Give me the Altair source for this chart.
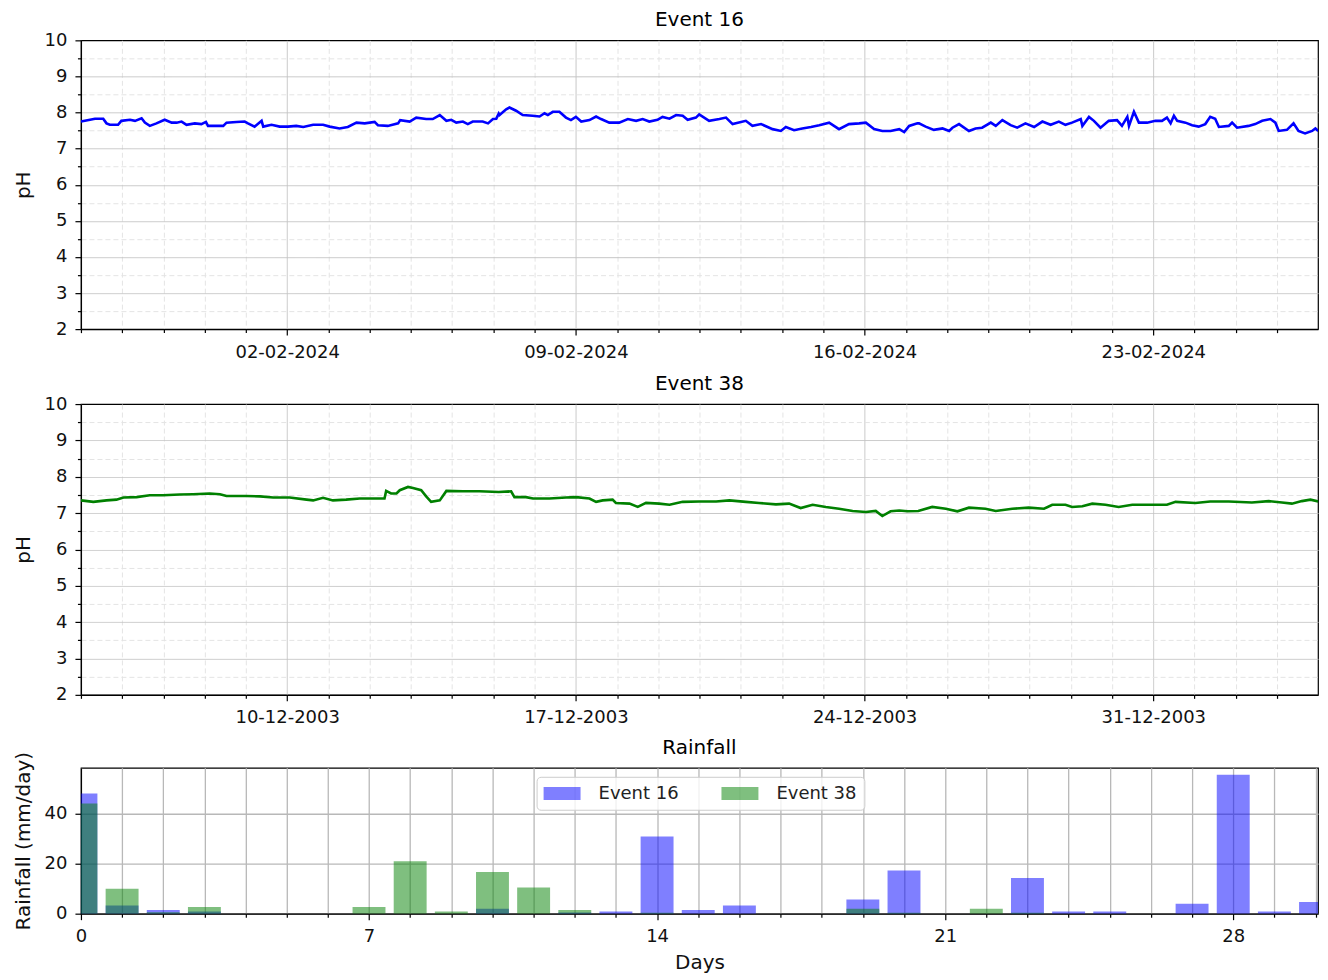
import altair as alt
import numpy as np
import pandas as pd

FONT = "DejaVu Sans"

# ---------------- data ----------------
# Event 16: days since 28-01-2024 00:00 and pH
e16_day = [0, 0.22, 0.34, 0.54, 0.62, 0.70, 0.90, 0.98, 1.19, 1.31, 1.47, 1.55, 1.67, 1.83, 2.03, 2.20,
           2.32, 2.44, 2.56, 2.76, 2.92, 3.03, 3.08, 3.25, 3.45, 3.53, 3.77, 3.97, 4.05, 4.21, 4.38, 4.42,
           4.62, 4.82, 5.02, 5.22, 5.39, 5.63, 5.87, 6.03, 6.27, 6.47, 6.68, 6.88, 7.12, 7.20, 7.44, 7.69,
           7.74, 7.97, 8.13, 8.37, 8.53, 8.70, 8.86, 8.98, 9.10, 9.26, 9.38, 9.50, 9.74, 9.87, 9.99, 10.07,
           10.13, 10.15, 10.31, 10.39, 10.55, 10.71, 10.95, 11.12, 11.24, 11.32, 11.44, 11.60, 11.76, 11.88,
           12.00, 12.13, 12.33, 12.49, 12.61, 12.81, 13.05, 13.26, 13.46, 13.62, 13.78, 13.98, 14.10, 14.27,
           14.43, 14.59, 14.71, 14.91, 14.99, 15.23, 15.48, 15.64, 15.80, 16.12, 16.28, 16.49, 16.77, 16.97,
           17.09, 17.29, 17.49, 17.70, 17.90, 18.14, 18.38, 18.62, 18.87, 19.03, 19.23, 19.43, 19.63, 19.84,
           19.96, 20.08, 20.28, 20.32, 20.48, 20.68, 20.89, 21.05, 21.13, 21.29, 21.53, 21.69, 21.85, 22.06,
           22.18, 22.34, 22.54, 22.70, 22.90, 23.11, 23.31, 23.51, 23.71, 23.87, 24.03, 24.24, 24.28, 24.44,
           24.56, 24.72, 24.92, 25.12, 25.24, 25.37, 25.41, 25.53, 25.65, 25.85, 26.05, 26.21, 26.33, 26.42,
           26.50, 26.58, 26.78, 26.94, 27.10, 27.26, 27.38, 27.50, 27.59, 27.83, 27.91, 28.03, 28.31, 28.47,
           28.64, 28.84, 28.96, 29.04, 29.24, 29.40, 29.52, 29.68, 29.85, 29.93, 30.00]
e16_ph = [7.75, 7.80, 7.83, 7.83, 7.70, 7.66, 7.66, 7.77, 7.80, 7.77, 7.84, 7.72, 7.63, 7.70, 7.80, 7.72,
          7.72, 7.75, 7.66, 7.70, 7.68, 7.74, 7.63, 7.63, 7.63, 7.72, 7.74, 7.75, 7.70, 7.61, 7.77, 7.61,
          7.66, 7.61, 7.61, 7.63, 7.60, 7.66, 7.66, 7.61, 7.56, 7.60, 7.72, 7.70, 7.74, 7.65, 7.63, 7.70,
          7.79, 7.75, 7.86, 7.82, 7.82, 7.93, 7.77, 7.80, 7.72, 7.75, 7.68, 7.75, 7.75, 7.70, 7.82, 7.83,
          7.97, 7.93, 8.09, 8.14, 8.05, 7.93, 7.91, 7.89, 7.98, 7.93, 8.02, 8.02, 7.86, 7.79,
          7.88, 7.75, 7.79, 7.89, 7.82, 7.72, 7.72, 7.82, 7.77, 7.82, 7.75, 7.80, 7.88, 7.83,
          7.93, 7.91, 7.80, 7.86, 7.95, 7.77, 7.82, 7.86, 7.68, 7.77, 7.63, 7.68, 7.54, 7.49,
          7.60, 7.51, 7.56, 7.60, 7.65, 7.72, 7.54, 7.68, 7.70, 7.72, 7.54, 7.49, 7.49, 7.54,
          7.46, 7.63, 7.70, 7.70, 7.61, 7.52, 7.56, 7.49, 7.58, 7.68, 7.49, 7.56, 7.58, 7.72,
          7.63, 7.79, 7.65, 7.58, 7.70, 7.60, 7.75, 7.66, 7.75, 7.66, 7.72, 7.82, 7.63, 7.88,
          7.77, 7.58, 7.77, 7.79, 7.63, 7.88, 7.63, 8.02, 7.72, 7.72, 7.77, 7.77, 7.86, 7.70,
          7.91, 7.77, 7.72, 7.65, 7.61, 7.68, 7.88, 7.83, 7.60, 7.63, 7.72, 7.58, 7.63, 7.68,
          7.77, 7.82, 7.72, 7.49, 7.52, 7.70, 7.49, 7.42, 7.49, 7.56, 7.49]

# Event 38: days since 05-12-2003 00:00 and pH
e38_day = [0, 0.30, 0.62, 0.86, 1.03, 1.35, 1.67, 1.99, 2.40, 2.72, 3.12, 3.37, 3.53, 4.01, 4.34, 4.66,
           5.06, 5.47, 5.63, 5.87, 6.11, 6.43, 6.76, 7.08, 7.36, 7.40, 7.52, 7.65, 7.73, 7.93, 8.05, 8.25,
           8.37, 8.49, 8.70, 8.86, 9.26, 9.66, 10.13, 10.43, 10.51, 10.79, 10.96, 11.36, 11.76, 12.00,
           12.33, 12.49, 12.65, 12.89, 12.97, 13.30, 13.50, 13.70, 14.02, 14.27, 14.59, 14.99, 15.40, 15.72,
           16.12, 16.44, 16.85, 17.17, 17.45, 17.74, 18.06, 18.38, 18.71, 19.03, 19.27, 19.43, 19.63, 19.84,
           20.04, 20.30, 20.64, 20.97, 21.25, 21.53, 21.93, 22.18, 22.58, 22.98, 23.35, 23.55, 23.87, 24.03,
           24.28, 24.52, 24.84, 25.16, 25.49, 25.97, 26.33, 26.54, 27.02, 27.38, 27.83, 28.39, 28.80, 29.12,
           29.36, 29.60, 29.81, 30.00]
e38_ph = [7.35, 7.31, 7.35, 7.37, 7.43, 7.44, 7.49, 7.49, 7.51, 7.52, 7.54, 7.52, 7.47, 7.47, 7.46, 7.43,
          7.43, 7.37, 7.35, 7.42, 7.35, 7.37, 7.40, 7.40, 7.40, 7.61, 7.54, 7.54, 7.63, 7.72, 7.69, 7.63,
          7.46, 7.31, 7.35, 7.61, 7.60, 7.60, 7.58, 7.60, 7.44, 7.44, 7.40, 7.40, 7.43, 7.44,
          7.40, 7.31, 7.35, 7.37, 7.28, 7.26, 7.17, 7.28, 7.26, 7.23, 7.31, 7.32, 7.32, 7.35,
          7.31, 7.28, 7.24, 7.26, 7.14, 7.23, 7.17, 7.12, 7.06, 7.03, 7.06, 6.92, 7.05, 7.07,
          7.05, 7.06, 7.17, 7.12, 7.05, 7.15, 7.12, 7.06, 7.12, 7.15, 7.12, 7.23, 7.23, 7.17,
          7.19, 7.26, 7.23, 7.17, 7.23, 7.23, 7.23, 7.31, 7.28, 7.32, 7.32, 7.29, 7.33, 7.29,
          7.26, 7.33, 7.37, 7.32]

# Rainfall (mm/day) per day
rain_days = list(range(31))
rain_e16 = [48, 3.3, 1.5, 0.9, 0, 0, 0, 0, 0, 0, 2, 0, 0.5, 0.9, 30.8, 1.5, 3.3, 0, 0, 5.7,
            17.3, 0, 0, 14.3, 0.9, 0.9, 0, 4, 55.5, 0.9, 4.7]
rain_e38 = [44, 10, 0.6, 2.7, 0, 0, 0, 2.7, 21, 0.9, 16.7, 10.5, 1.5, 0, 0.4, 0, 0, 0, 0, 2,
            0.4, 0, 2, 0.4, 0, 0, 0, 0, 0, 0, 0]

events = ["Event 16", "Event 38"]
colors = ["#0000ff", "#008000"]
ph_ticks = list(np.arange(2, 10.01, 0.5))


def to_iso(start, days):
    s = pd.Timestamp(start)
    return [(s + pd.Timedelta(days=d)).strftime("%Y-%m-%dT%H:%M:%S") for d in days]


df16 = pd.DataFrame({"time": to_iso("2024-01-28", e16_day), "ph": e16_ph})
df38 = pd.DataFrame({"time": to_iso("2003-12-05", e38_day), "ph": e38_ph})

MAJ_GRID = "#c4c4c4"
MIN_GRID = "#e4e4e4"
W = 1238


def title(text, offset):
    return alt.TitleParams(text, font=FONT, fontSize=20, fontWeight="normal", color="black",
                           offset=offset)


def ph_panel(df, name, color, dom0, dom1, major_wd, height):
    major = f"day(datum.value) === {major_wd}"
    x_axis = alt.Axis(
        title=None,
        tickCount={"interval": "day", "step": 1},
        labelExpr=f"{major} ? timeFormat(datum.value, '%d-%m-%Y') : ''",
        labelOverlap=False,
        labelFlush=False,
        tickSize={"condition": {"test": major, "value": 6}, "value": 3.5},
        gridDash={"condition": {"test": major, "value": [1, 0]}, "value": [5, 3]},
        gridColor={"condition": {"test": major, "value": MAJ_GRID}, "value": MIN_GRID},
    )
    ymaj = "datum.value % 1 === 0"
    y_axis = alt.Axis(
        title="pH",
        values=ph_ticks,
        labelExpr=f"{ymaj} ? format(datum.value, 'd') : ''",
        labelOverlap=False,
        labelFlush=False,
        tickSize={"condition": {"test": ymaj, "value": 6}, "value": 3.5},
        gridDash={"condition": {"test": ymaj, "value": [1, 0]}, "value": [5, 3]},
        gridColor={"condition": {"test": ymaj, "value": MAJ_GRID}, "value": MIN_GRID},
        gridOpacity={"condition": {"test": "datum.value === 10", "value": 0}, "value": 1},
    )
    return (
        alt.Chart(df, title=title(name, 1))
        .mark_line(color=color, strokeWidth=2.6, clip=True)
        .encode(
            x=alt.X("time:T", scale=alt.Scale(domain=[dom0, dom1], nice=False), axis=x_axis),
            y=alt.Y("ph:Q", scale=alt.Scale(domain=[2, 10], nice=False, zero=False), axis=y_axis),
        )
        .properties(width=W, height=height)
    )


top = ph_panel(df16, "Event 16", colors[0],
               alt.DateTime(year=2024, month=1, date=28),
               alt.DateTime(year=2024, month=2, date=26, hours=23, minutes=50), 5, 289)
mid = ph_panel(df38, "Event 38", colors[1],
               alt.DateTime(year=2003, month=12, date=5),
               alt.DateTime(year=2004, month=1, date=3, hours=23, minutes=50), 3, 291)

rain_df = pd.DataFrame({
    "day": rain_days + rain_days,
    "rain": rain_e16 + rain_e38,
    "event": [events[0]] * len(rain_days) + [events[1]] * len(rain_days),
})

xmaj = "datum.value % 7 === 0"
bars = (
    alt.Chart(rain_df, title=title("Rainfall", -6.5))
    .transform_filter("datum.rain > 0")
    .transform_calculate(x0="datum.day - 0.4", x1="datum.day + 0.4")
    .mark_bar(opacity=0.5, clip=True)
    .encode(
        x=alt.X("x0:Q", scale=alt.Scale(domain=[0, 30.06], nice=False, zero=False),
                axis=alt.Axis(title="Days", values=rain_days,
                              labelExpr=f"{xmaj} ? format(datum.value, 'd') : ''",
                              labelOverlap=False, labelFlush=False,
                              tickSize={"condition": {"test": xmaj, "value": 6}, "value": 3.5},
                              gridColor="#b8b8b8", gridWidth=1.3, titlePadding=7)),
        x2="x1:Q",
        y=alt.Y("rain:Q", stack=False, scale=alt.Scale(domain=[0, 58.3], nice=False),
                axis=alt.Axis(title="Rainfall (mm/day)", values=[0, 20, 40], tickSize=6,
                              gridColor="#b8b8b8", gridWidth=1.3)),
        y2=alt.datum(0),
        color=alt.Color("event:N", scale=alt.Scale(domain=events, range=colors),
                        legend=alt.Legend(
                            title=None, orient="none", legendX=456, legendY=9,
                            direction="horizontal", columns=2,
                            symbolType="M-2,-0.7L2,-0.7L2,0.7L-2,0.7Z", symbolSize=342,
                            symbolOffset=9, symbolStrokeWidth=0, symbolOpacity=0.5,
                            labelFont=FONT, labelFontSize=18, labelColor="#222222",
                            labelOffset=27, columnPadding=42, padding=7,
                            fillColor="rgba(255,255,255,0.8)", strokeColor="#cccccc",
                            cornerRadius=4)),
    )
    .properties(width=W, height=146)
)

upper = alt.vconcat(top, mid, spacing=11).resolve_scale(x="independent", y="independent")

chart = (
    alt.vconcat(upper, bars, spacing=9,
                padding={"left": 4, "top": 1, "right": 1, "bottom": 0})
    .resolve_scale(x="independent", y="independent", color="independent")
    .configure(font=FONT)
    .configure_view(stroke="black", strokeWidth=1.2)
    .configure_axis(
        labelFont=FONT, labelFontSize=18, labelColor="#111111",
        titleFont=FONT, titleFontSize=20, titleFontWeight="normal", titleColor="#111111",
        domainColor="black", domainWidth=1.2, tickColor="black", tickWidth=1.2,
        labelPadding=8, titlePadding=11, gridWidth=1,
    )
)

chart.save("out.html", embed_options={"renderer": "svg", "actions": False})
